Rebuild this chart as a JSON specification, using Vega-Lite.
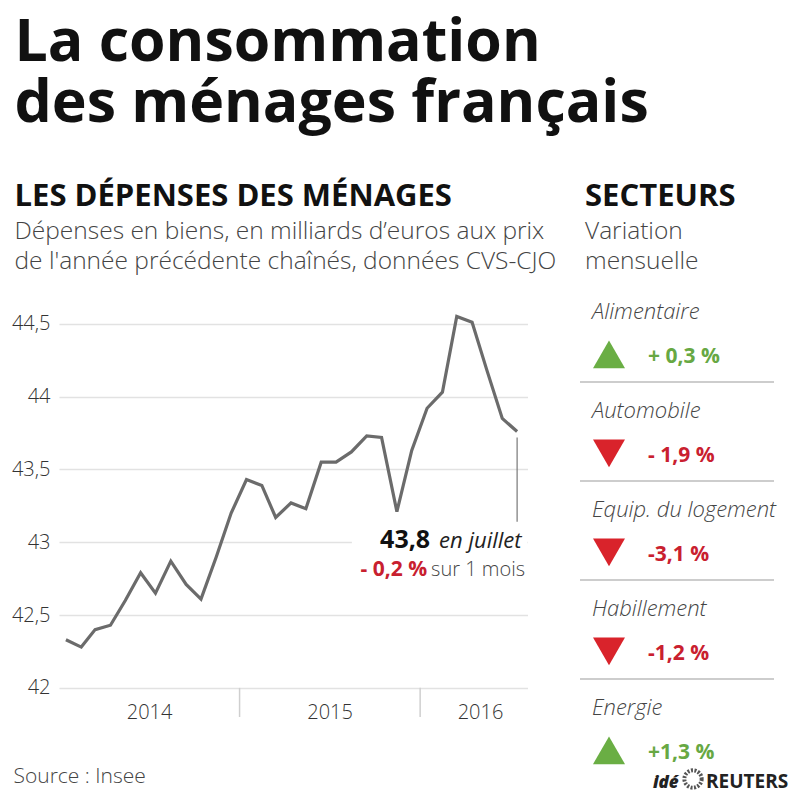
{
  "$schema": "https://vega.github.io/schema/vega-lite/v6.json",
  "background": "white",
  "padding": {"left": 11, "top": 13, "right": 0, "bottom": 0},
  "bounds": "flush",
  "spacing": 52,
  "config": {"view": {"stroke": null}, "font": "Open Sans"},
  "title": {
    "text": ["La consommation", "des ménages français"],
    "anchor": "start",
    "frame": "bounds",
    "dx": 3,
    "font": "Open Sans",
    "fontSize": 59,
    "fontWeight": 700,
    "color": "#111111",
    "lineHeight": 61,
    "offset": 47
  },
  "hconcat": [
    {
      "width": 468.5,
      "height": 434,
      "title": {
        "text": "LES DÉPENSES DES MÉNAGES",
        "subtitle": ["Dépenses en biens, en milliards d’euros aux prix", "de l'année précédente chaînés, données CVS-CJO"],
        "anchor": "start",
        "frame": "group",
        "dx": -44.5,
        "font": "Open Sans",
        "fontSize": 31,
        "fontWeight": 700,
        "color": "#111111",
        "subtitleFont": "Open Sans",
        "subtitleFontSize": 24.5,
        "subtitleFontWeight": 300,
        "subtitleColor": "#444444",
        "subtitleLineHeight": 30,
        "subtitlePadding": 7,
        "offset": 9
      },
      "data": {
        "values": [
          {"date": "2014-01-15", "value": 42.33},
          {"date": "2014-02-15", "value": 42.28},
          {"date": "2014-03-15", "value": 42.40},
          {"date": "2014-04-15", "value": 42.43},
          {"date": "2014-05-15", "value": 42.60},
          {"date": "2014-06-15", "value": 42.79},
          {"date": "2014-07-15", "value": 42.65},
          {"date": "2014-08-15", "value": 42.87},
          {"date": "2014-09-15", "value": 42.71},
          {"date": "2014-10-15", "value": 42.61},
          {"date": "2014-11-15", "value": 42.90},
          {"date": "2014-12-15", "value": 43.20},
          {"date": "2015-01-15", "value": 43.43},
          {"date": "2015-02-15", "value": 43.39},
          {"date": "2015-03-15", "value": 43.17},
          {"date": "2015-04-15", "value": 43.27},
          {"date": "2015-05-15", "value": 43.23},
          {"date": "2015-06-15", "value": 43.55},
          {"date": "2015-07-15", "value": 43.55},
          {"date": "2015-08-15", "value": 43.62},
          {"date": "2015-09-15", "value": 43.73},
          {"date": "2015-10-15", "value": 43.72},
          {"date": "2015-11-15", "value": 43.21},
          {"date": "2015-12-15", "value": 43.63},
          {"date": "2016-01-15", "value": 43.92},
          {"date": "2016-02-15", "value": 44.03},
          {"date": "2016-03-15", "value": 44.55},
          {"date": "2016-04-15", "value": 44.51},
          {"date": "2016-05-15", "value": 44.18},
          {"date": "2016-06-15", "value": 43.85},
          {"date": "2016-07-15", "value": 43.76}
        ]
      },
      "layer": [
        {
          "data": {"values": [{"start": "2015-08-16", "end": "2016-08-05", "level": 43}]},
          "mark": {"type": "rule", "color": "white", "strokeWidth": 4},
          "encoding": {
            "x": {"field": "start", "type": "temporal"},
            "x2": {"field": "end"},
            "y": {"field": "level", "type": "quantitative"}
          }
        },
        {
          "data": {"values": [{"boundary": "2015-01-01"}, {"boundary": "2016-01-01"}]},
          "mark": {"type": "rule", "color": "#cfcfcf", "strokeWidth": 1.5},
          "encoding": {
            "x": {"field": "boundary", "type": "temporal"},
            "y": {"datum": 42, "type": "quantitative"},
            "y2": {"datum": 41.8}
          }
        },
        {
          "mark": {"type": "line", "color": "#6b6b6b", "strokeWidth": 3.2, "strokeJoin": "miter"},
          "encoding": {
            "x": {
              "field": "date",
              "type": "temporal",
              "scale": {"domain": ["2014-01-01", "2016-08-05"]},
              "axis": {
                "values": [
                  {"year": 2014, "month": 7, "date": 2},
                  {"year": 2015, "month": 7, "date": 2},
                  {"year": 2016, "month": 5, "date": 1}
                ],
                "labelExpr": "timeFormat(datum.value, '%Y')",
                "domain": false,
                "grid": false,
                "ticks": false,
                "labelFont": "Open Sans",
                "labelFontSize": 20,
                "labelFontWeight": 300,
                "labelColor": "#333333",
                "labelBaseline": "alphabetic",
                "labelPadding": 1,
                "labelFlush": false,
                "labelOverlap": false,
                "title": "Source : Insee",
                "titleFont": "Open Sans",
                "titleFontSize": 21,
                "titleFontWeight": 300,
                "titleColor": "#444444",
                "titleAnchor": "start",
                "titleAlign": "left",
                "titleBaseline": "alphabetic",
                "titleX": -46,
                "titleY": 65
              }
            },
            "y": {
              "field": "value",
              "type": "quantitative",
              "scale": {"domain": [41.8, 44.78], "nice": false, "zero": false},
              "axis": {
                "values": [42, 42.5, 43, 43.5, 44, 44.5],
                "labelExpr": "replace(format(datum.value, '.1~f'), '.', ',')",
                "title": null,
                "domain": false,
                "ticks": false,
                "labelFont": "Open Sans",
                "labelFontSize": 20,
                "labelFontWeight": 300,
                "labelColor": "#333333",
                "labelPadding": 9,
                "gridColor": "#e2e2e2",
                "gridWidth": 1.5
              }
            }
          }
        },
        {
          "data": {"values": [{"date": "2016-07-15", "top": 43.72, "bottom": 43.14, "level": "43,8", "month": "en juillet", "change": "- 0,2 %", "period": "sur 1 mois"}]},
          "layer": [
            {
              "mark": {"type": "rule", "color": "#777777", "strokeWidth": 1.2},
              "encoding": {
                "x": {"field": "date", "type": "temporal"},
                "y": {"field": "top", "type": "quantitative"},
                "y2": {"field": "bottom"}
              }
            },
            {
              "mark": {"type": "text", "align": "right", "baseline": "alphabetic", "dx": -87, "dy": 26, "font": "Open Sans", "fontSize": 25, "fontWeight": 700, "color": "#111111"},
              "encoding": {
                "x": {"field": "date", "type": "temporal"},
                "y": {"field": "bottom", "type": "quantitative"},
                "text": {"field": "level"}
              }
            },
            {
              "mark": {"type": "text", "align": "left", "baseline": "alphabetic", "dx": -78, "dy": 26, "font": "Open Sans", "fontSize": 22, "fontStyle": "italic", "color": "#222222"},
              "encoding": {
                "x": {"field": "date", "type": "temporal"},
                "y": {"field": "bottom", "type": "quantitative"},
                "text": {"field": "month"}
              }
            },
            {
              "mark": {"type": "text", "align": "right", "baseline": "alphabetic", "dx": -90, "dy": 54, "font": "Open Sans", "fontSize": 21, "fontWeight": 700, "color": "#c8202f"},
              "encoding": {
                "x": {"field": "date", "type": "temporal"},
                "y": {"field": "bottom", "type": "quantitative"},
                "text": {"field": "change"}
              }
            },
            {
              "mark": {"type": "text", "align": "left", "baseline": "alphabetic", "dx": -86, "dy": 54, "font": "Open Sans", "fontSize": 20, "fontWeight": 300, "color": "#444444"},
              "encoding": {
                "x": {"field": "date", "type": "temporal"},
                "y": {"field": "bottom", "type": "quantitative"},
                "text": {"field": "period"}
              }
            }
          ]
        }
      ]
    },
    {
      "width": 194,
      "height": 495,
      "title": {
        "text": "SECTEURS",
        "subtitle": ["Variation", "mensuelle"],
        "anchor": "start",
        "frame": "group",
        "dx": 5,
        "font": "Open Sans",
        "fontSize": 31,
        "fontWeight": 700,
        "color": "#111111",
        "subtitleFont": "Open Sans",
        "subtitleFontSize": 24.5,
        "subtitleFontWeight": 300,
        "subtitleColor": "#444444",
        "subtitleLineHeight": 30,
        "subtitlePadding": 7,
        "offset": 9
      },
      "data": {
        "values": [
          {"sector": "Alimentaire", "change": 0.3, "label": "+ 0,3 %"},
          {"sector": "Automobile", "change": -1.9, "label": "- 1,9 %"},
          {"sector": "Equip. du logement", "change": -3.1, "label": "-3,1 %"},
          {"sector": "Habillement", "change": -1.2, "label": "-1,2 %"},
          {"sector": "Energie", "change": 1.3, "label": "+1,3 %"}
        ]
      },
      "layer": [
        {
          "transform": [{"filter": "datum.sector != 'Energie'"}],
          "mark": {"type": "rule", "color": "#bdbdbd", "strokeWidth": 1.5},
          "encoding": {
            "y": {"field": "sector", "type": "nominal", "sort": null, "bandPosition": 1, "scale": {"type": "band", "paddingInner": 0, "paddingOuter": 0, "domain": ["Alimentaire", "Automobile", "Equip. du logement", "Habillement", "Energie"]}, "axis": null},
            "x": {"value": 0},
            "x2": {"value": "width"}
          }
        },
        {
          "mark": {"type": "text", "align": "left", "baseline": "alphabetic", "dy": 36, "font": "Open Sans", "fontStyle": "italic", "fontWeight": 300, "fontSize": 22, "color": "#444444"},
          "encoding": {
            "y": {"field": "sector", "type": "nominal", "sort": null, "bandPosition": 0, "axis": null},
            "x": {"value": 12},
            "text": {"field": "sector"}
          }
        },
        {
          "mark": {"type": "point", "filled": true, "size": 1024, "opacity": 1},
          "encoding": {
            "y": {"field": "sector", "type": "nominal", "sort": null, "bandPosition": 0.72, "axis": null},
            "x": {"value": 29},
            "shape": {"condition": {"test": "datum.change > 0", "value": "triangle-up"}, "value": "triangle-down"},
            "color": {"condition": {"test": "datum.change > 0", "value": "#6aae44"}, "value": "#d9232b"}
          }
        },
        {
          "mark": {"type": "text", "align": "left", "baseline": "alphabetic", "dy": 80, "font": "Open Sans", "fontWeight": 700, "fontSize": 21},
          "encoding": {
            "y": {"field": "sector", "type": "nominal", "sort": null, "bandPosition": 0, "axis": null},
            "x": {"value": 68},
            "text": {"field": "label"},
            "color": {"condition": {"test": "datum.change > 0", "value": "#67a843"}, "value": "#c9202f"}
          }
        },
        {
          "transform": [{"filter": "datum.sector == 'Energie'"}],
          "layer": [
            {
              "mark": {"type": "text", "align": "left", "baseline": "alphabetic", "dy": 10, "font": "Open Sans", "fontWeight": 800, "fontStyle": "italic", "fontSize": 17, "color": "#222222", "text": "idé"},
              "encoding": {
                "y": {"field": "sector", "type": "nominal", "sort": null, "bandPosition": 1, "axis": null},
                "x": {"value": 73}
              }
            },
            {
              "mark": {"type": "point", "shape": "circle", "filled": false, "size": 300, "stroke": "#555555", "strokeWidth": 4, "strokeDash": [2, 1.5], "opacity": 1},
              "encoding": {
                "y": {"field": "sector", "type": "nominal", "sort": null, "bandPosition": 1.01, "axis": null},
                "x": {"value": 113}
              }
            },
            {
              "mark": {"type": "text", "align": "left", "baseline": "alphabetic", "dy": 10, "font": "Open Sans", "fontWeight": 700, "fontSize": 19, "color": "#222222", "text": "REUTERS"},
              "encoding": {
                "y": {"field": "sector", "type": "nominal", "sort": null, "bandPosition": 1, "axis": null},
                "x": {"value": 126}
              }
            }
          ]
        }
      ]
    }
  ]
}
